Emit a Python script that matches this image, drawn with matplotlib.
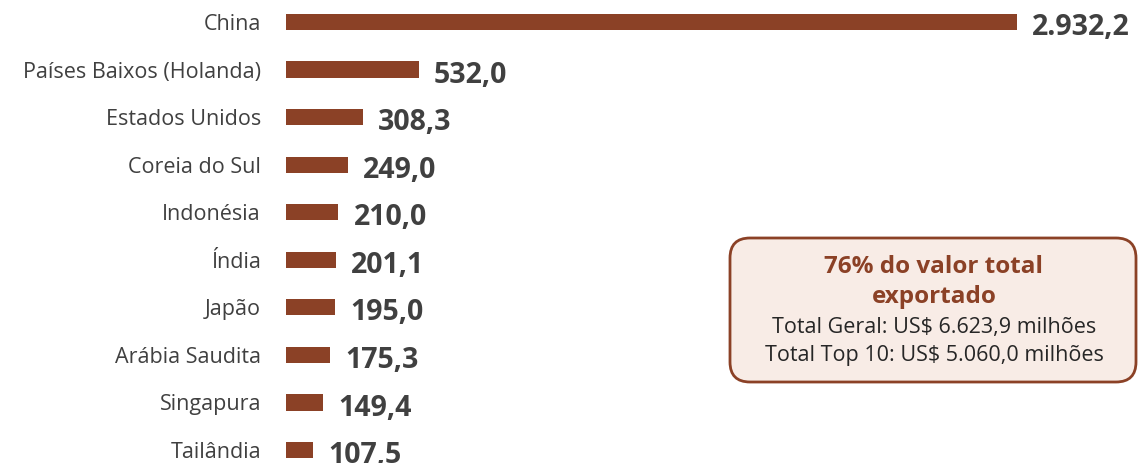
import matplotlib.pyplot as plt
from matplotlib.patches import FancyBboxPatch

paises = ["China", "Países Baixos (Holanda)", "Estados Unidos", "Coreia do Sul",
          "Indonésia", "Índia", "Japão", "Arábia Saudita", "Singapura", "Tailândia"]
valores = [2932.2, 532.0, 308.3, 249.0, 210.0, 201.1, 195.0, 175.3, 149.4, 107.5]
rotulos = ["2.932,2", "532,0", "308,3", "249,0", "210,0", "201,1", "195,0", "175,3", "149,4", "107,5"]

cor_barra = "#8B4126"
cor_texto = "#404040"

plt.rcParams['font.family'] = ['Open Sans', 'DejaVu Sans']

fig = plt.figure(figsize=(11.38, 4.63), dpi=100)
ax = fig.add_axes([286 / 1138, 0, 1 - 286 / 1138, 1])

y = list(range(len(paises)))
ax.barh(y, valores, height=0.34, color=cor_barra)
ax.set_xlim(0, 852 / 0.2493)
ax.set_ylim(9 + 13 / 47.56, -22 / 47.56)

for i in range(len(valores)):
    ax.annotate(rotulos[i], (valores[i], i), xytext=(11, -4), textcoords="offset points",
                ha="left", va="center", fontsize=20.5, fontweight="bold", color=cor_texto)

ax.set_yticks(y)
ax.set_yticklabels(paises, fontsize=15.5, color=cor_texto)
ax.tick_params(axis="y", length=0, pad=18)
ax.set_xticks([])
for s in ax.spines.values():
    s.set_visible(False)

# caixa de destaque (coordenadas em pixels)
ax2 = fig.add_axes([0, 0, 1, 1], zorder=3)
ax2.set_xlim(0, 1138)
ax2.set_ylim(463, 0)
ax2.axis("off")
caixa = FancyBboxPatch((730, 238), 406, 144, boxstyle="round,pad=0,rounding_size=20",
                       facecolor="#F8ECE6", edgecolor=cor_barra, linewidth=2)
ax2.add_patch(caixa)
cx = 934
ax2.text(cx, 267, "76% do valor total", ha="center", va="center",
         fontsize=17.5, fontweight="bold", color=cor_barra)
ax2.text(cx, 297, "exportado", ha="center", va="center",
         fontsize=17.5, fontweight="bold", color=cor_barra)
ax2.text(cx, 328, "Total Geral: US$ 6.623,9 milhões", ha="center", va="center",
         fontsize=15.5, color="#262626")
ax2.text(cx, 356, "Total Top 10: US$ 5.060,0 milhões", ha="center", va="center",
         fontsize=15.5, color="#262626")

fig.savefig("out.png", dpi=100)
